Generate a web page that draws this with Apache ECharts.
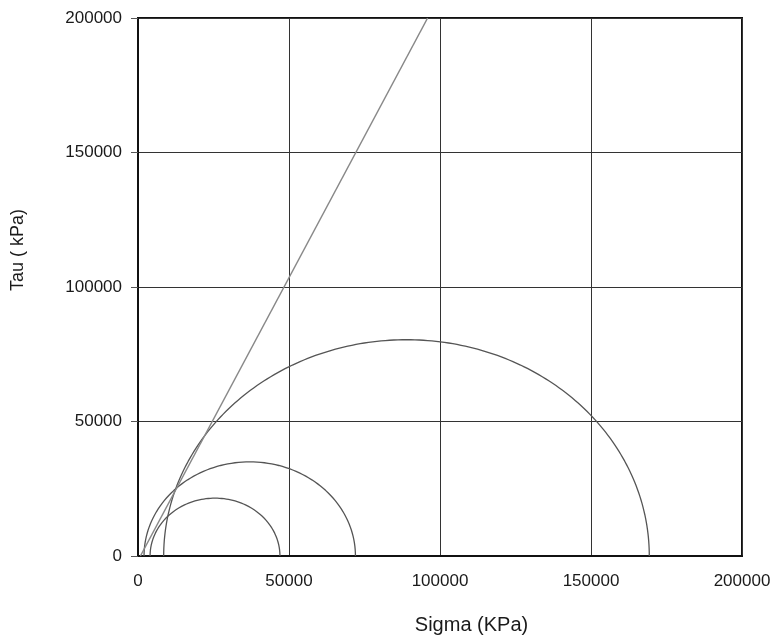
<!DOCTYPE html>
<html>
<head>
<meta charset="utf-8">
<script src="https://cdn.jsdelivr.net/npm/echarts@6/dist/echarts.min.js"></script>
<style>
html,body{margin:0;padding:0;background:#fff;}
#c{width:775px;height:640px;}
</style>
</head>
<body>
<div id="c"></div>
<script>
// Mohr circles: minor and major principal stresses (kPa)
var sigma3 = [4000, 2000, 8500];
var sigma1 = [47000, 72000, 169300];
// Failure envelope endpoints
var envelopeSigma = [800, 95900];
var envelopeTau = [0, 200000];
var xTicks = [0, 50000, 100000, 150000, 200000];
var yTicks = [0, 50000, 100000, 150000, 200000];

function semicircle(s3, s1) {
  var c = (s1 + s3) / 2, r = (s1 - s3) / 2, pts = [];
  for (var i = 0; i <= 180; i++) {
    var a = Math.PI * (1 - i / 180);
    pts.push([c + r * Math.cos(a), r * Math.sin(a)]);
  }
  return pts;
}

var series = [];
for (var k = 0; k < sigma3.length; k++) {
  series.push({
    type: 'line', data: semicircle(sigma3[k], sigma1[k]), showSymbol: false,
    lineStyle: {color: '#555', width: 1.3}, z: 3, silent: true
  });
}
series.push({
  type: 'line', data: envelopeSigma.map(function (s, i) { return [s, envelopeTau[i]]; }),
  showSymbol: false, lineStyle: {color: '#888', width: 1.5}, z: 3, silent: true
});

var fmt = function (v) { return String(v); };
var FONT = 'Liberation Sans, Arial, sans-serif';
var chart = echarts.init(document.getElementById('c'));
chart.setOption({
  animation: false,
  backgroundColor: '#fff',
  grid: {left: 138, right: 33, top: 18, bottom: 76, show: true, borderColor: '#111', borderWidth: 2, containLabel: false},
  xAxis: {
    type: 'value', min: xTicks[0], max: xTicks[xTicks.length - 1], interval: 50000,
    name: 'Sigma (KPa)', nameLocation: 'middle', nameGap: 59,
    nameTextStyle: {fontFamily: FONT, fontSize: 20, color: '#1a1a1a', padding: [0, 0, 0, 63]},
    axisLine: {lineStyle: {color: '#111', width: 2}},
    axisTick: {show: false},
    axisLabel: {formatter: fmt, fontFamily: FONT, fontSize: 17, color: '#1a1a1a', margin: 17},
    splitLine: {lineStyle: {color: '#333', width: 1}}
  },
  yAxis: {
    type: 'value', min: yTicks[0], max: yTicks[yTicks.length - 1], interval: 50000,
    name: 'Tau ( kPa)', nameLocation: 'middle', nameGap: 111, nameRotate: 90,
    nameTextStyle: {fontFamily: FONT, fontSize: 18, color: '#1a1a1a', padding: [0, 0, 0, 74]},
    axisLine: {lineStyle: {color: '#111', width: 2}},
    axisTick: {show: true, length: 7, lineStyle: {color: '#555'}},
    axisLabel: {formatter: fmt, fontFamily: FONT, fontSize: 17, color: '#1a1a1a', margin: 16},
    splitLine: {lineStyle: {color: '#333', width: 1}}
  },
  series: series
});
</script>
</body>
</html>
